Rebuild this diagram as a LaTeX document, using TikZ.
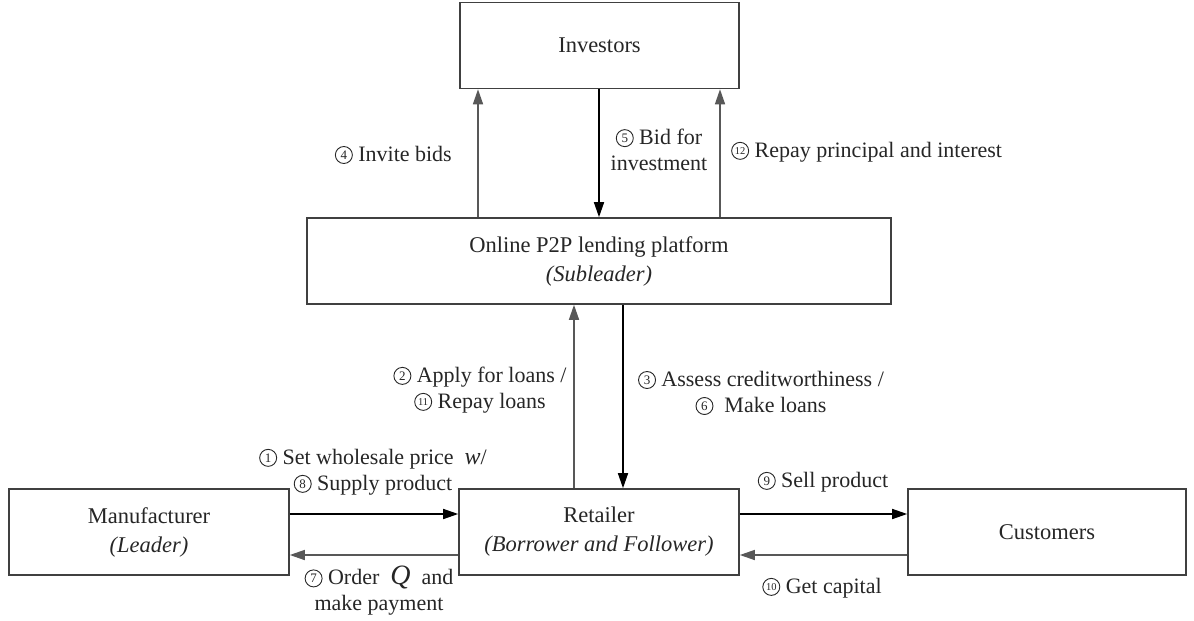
\documentclass[tikz,border=0pt]{standalone}
\usepackage{fontspec}
\setmainfont{Liberation Serif}
\usetikzlibrary{arrows.meta}
\definecolor{boxline}{HTML}{404040}
\definecolor{txt}{HTML}{262626}
\definecolor{garrow}{HTML}{585858}
\newcommand{\cnbase}[2]{\tikz[baseline={([yshift=-6.5pt]cc.center)},x=1pt,y=1pt]\node[circle,draw=txt,line width=0.9pt,inner sep=0pt,minimum size=17pt,text=txt,font=\fontsize{#1}{#1}\selectfont](cc){#2};}
\newcommand{\cn}[1]{\cnbase{13}{#1}}
\newcommand{\cnn}[1]{\cnbase{10.5}{#1}}
\begin{document}
\begin{tikzpicture}[x=1pt,y=-1pt,
  box/.style={draw=boxline, line width=1.6pt, minimum width=#1, minimum height=86pt,
    inner sep=0pt, align=center, text=txt, font=\fontsize{22.5}{29}\selectfont},
  box/.default=280pt,
  lbl/.style={text=txt, align=center, inner sep=0pt, font=\fontsize{22}{26}\selectfont},
  arr/.style={line width=1.5pt, -{Triangle[length=15pt,width=10pt]}},
  garr/.style={arr, draw=garrow, fill=garrow},
  barr/.style={arr, draw=black, fill=black}]
\useasboundingbox (0,0) rectangle (1194,621);
\fill[white] (0,0) rectangle (1194,621);

\node[box=279pt] (inv) at (599.5,45.5) {Investors};
\node[box=584pt] (plat) at (599,261) {Online P2P lending platform\\\textit{(Subleader)}};
\node[box] (ret) at (599,532) {Retailer\\\textit{(Borrower and Follower)}};
\node[box] (man) at (149,532) {Manufacturer\\\textit{(Leader)}};
\node[box=278pt] (cus) at (1047,532) {Customers};

% platform <-> investors
\draw[garr] (plat.north -| 478,0) -- (inv.south -| 478,0);
\draw[barr] (inv.south -| 599,0) -- (plat.north -| 599,0);
\draw[garr] (plat.north -| 720,0) -- (inv.south -| 720,0);

% retailer <-> platform
\draw[garr] (ret.north -| 574,0) -- (plat.south -| 574,0);
\draw[barr] (plat.south -| 623,0) -- (ret.north -| 623,0);

% horizontal
\draw[barr] (man.east |- 0,514) -- (ret.west |- 0,514);
\draw[garr] (ret.west |- 0,555) -- (man.east |- 0,555);
\draw[barr] (ret.east |- 0,514) -- (cus.west |- 0,514);
\draw[garr] (cus.west |- 0,555) -- (ret.east |- 0,555);

% labels
\node[lbl, anchor=east] (l4) at (452,155) {\cn{4} Invite bids};
\node[lbl] (l5) at (659,150) {\cn{5} Bid for\\investment};
\node[lbl, anchor=west] (l12) at (731,152) {\cnn{12} Repay principal and interest};
\node[lbl] (l2) at (480,390) {\cn{2} Apply for loans /\\\cnn{11} Repay loans};
\node[lbl] (l3) at (761,393) {\cn{3} Assess creditworthiness /\\\cn{6}\ \ Make loans};
\node[lbl] (l1) at (373,472) {\cn{1} Set wholesale price \ {\fontsize{24}{24}\selectfont\textit{w}}/\\\cn{8} Supply product};
\node[lbl] (l9) at (823,482) {\cn{9} Sell product};
\node[lbl] (l7) at (379,591) {\cn{7} Order \ {\fontsize{28}{20}\selectfont\textit{Q}} \ and\\make payment};
\node[lbl] (l10) at (822,588) {\cnn{10} Get capital};
\end{tikzpicture}
\end{document}
